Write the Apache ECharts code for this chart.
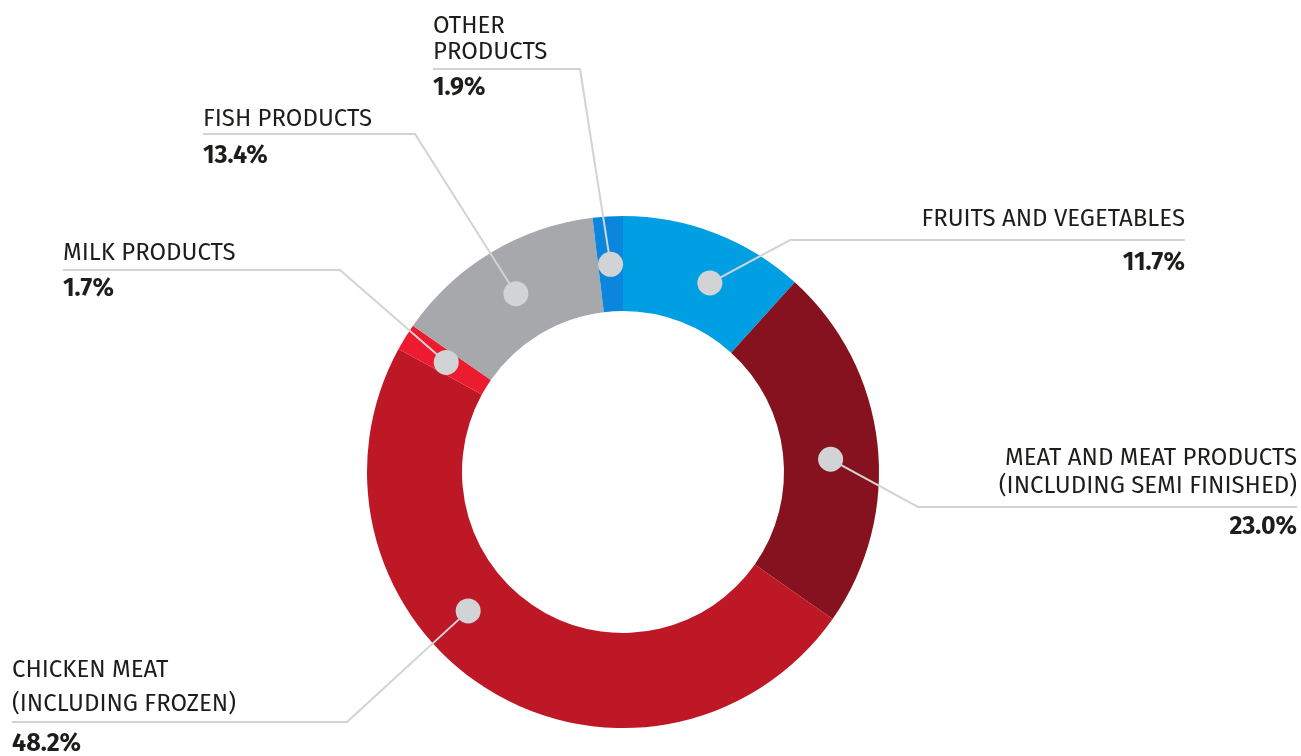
<!DOCTYPE html>
<html>
<head>
<meta charset="utf-8">
<script src="https://cdn.jsdelivr.net/npm/echarts@6/dist/echarts.min.js"></script>
<style>
html,body{margin:0;padding:0;background:#fff;}
#c{width:1301px;height:756px;}
</style>
</head>
<body>
<div id="c"></div>
<script>
// ---- data ----
const categories = [
  'FRUITS AND VEGETABLES',
  'MEAT AND MEAT PRODUCTS\n(INCLUDING SEMI FINISHED)',
  'CHICKEN MEAT\n(INCLUDING FROZEN)',
  'MILK PRODUCTS',
  'FISH PRODUCTS',
  'OTHER\nPRODUCTS'
];
const shares = [11.7, 23.0, 48.2, 1.7, 13.4, 1.9];
const colors = ['#009fe3', '#85121e', '#be1827', '#ed1b2f', '#a6a8ab', '#0a87dc'];

// ---- layout (label placement, not data) ----
const CX = 623, CY = 472, R_IN = 161, R_OUT = 256, R_DOT = 208;
const labelPlace = [
  {align: 'right', x: 1185, firstY: 219, lineY: 240, pctY: 263, elbowX: 790, lh: 27, shift: 1.0},
  {align: 'right', x: 1297, firstY: 458, lineY: 507, pctY: 527, elbowX: 918, lh: 28, shift: 0.8},
  {align: 'left',  x: 12,   firstY: 670, lineY: 722, pctY: 744, elbowX: 347, lh: 34, shift: 4.5},
  {align: 'left',  x: 63,   firstY: 253, lineY: 270, pctY: 289, elbowX: 340, lh: 27, shift: 0},
  {align: 'left',  x: 203,  firstY: 119, lineY: 134, pctY: 156, elbowX: 415, lh: 27, shift: 0},
  {align: 'left',  x: 433,  firstY: 26,  lineY: 69,  pctY: 88,  elbowX: 580, lh: 26, shift: 0}
];

const total = shares.reduce((a, b) => a + b, 0);
const cum = [];
shares.reduce((acc, v, i) => { cum[i] = acc + v / 2; return acc + v; }, 0);
const dotAt = cum.map((m, i) => m + labelPlace[i].shift);

function dotPixel(i) {
  const a = (90 - 360 * dotAt[i] / total) * Math.PI / 180;
  return [CX + R_DOT * Math.cos(a), CY - R_DOT * Math.sin(a)];
}

const FONT = "'Fira Sans', Roboto, 'Noto Sans', sans-serif";
const rich = {};
labelPlace.forEach((p, i) => {
  const nLines = categories[i].split('\n').length;
  const lastC = p.firstY + (nLines - 1) * p.lh;
  rich['n' + i] = {fontFamily: FONT, fontSize: 24, color: '#1d1d1b', lineHeight: p.lh, align: p.align};
  rich['p' + i] = {fontFamily: FONT, fontSize: 25, fontWeight: 'bold', color: '#1d1d1b',
                   lineHeight: 2 * (p.pctY - lastC) - p.lh, align: p.align};
});

const pieData = shares.map((v, i) => ({value: v, name: categories[i], itemStyle: {color: colors[i]}}));

const chart = echarts.init(document.getElementById('c'), null, {renderer: 'canvas'});
chart.setOption({
  animation: false,
  backgroundColor: '#ffffff',
  polar: {center: [CX, CY], radius: R_OUT},
  angleAxis: {type: 'value', min: 0, max: total, startAngle: 90, clockwise: true, show: false},
  radiusAxis: {type: 'value', min: 0, max: R_OUT, show: false},
  series: [
    {
      type: 'pie',
      z: 2,
      center: [CX, CY],
      radius: [R_IN, R_OUT],
      startAngle: 90,
      clockwise: true,
      silent: true,
      label: {show: false},
      labelLine: {show: false},
      data: pieData
    },
    {
      type: 'pie',
      z: 3,
      center: [CX, CY],
      radius: [R_IN, R_OUT],
      startAngle: 90,
      clockwise: true,
      avoidLabelOverlap: false,
      silent: true,
      itemStyle: {color: 'rgba(0,0,0,0)', borderWidth: 0},
      data: shares.map((v, i) => ({value: v, name: categories[i]})),
      label: {
        show: true,
        position: 'outside',
        color: '#1d1d1b',
        formatter: (p) => {
          const i = p.dataIndex;
          const lines = categories[i].split('\n').map(t => '{n' + i + '|' + t + '}');
          return lines.join('\n') + '\n{p' + i + '|' + shares[i].toFixed(1) + '%}';
        },
        rich: rich
      },
      labelLine: {show: true, smooth: false, lineStyle: {color: '#d3d3d3', width: 2, opacity: 1}},
      labelLayout: (params) => {
        const i = params.dataIndex;
        const p = labelPlace[i];
        const d = dotPixel(i);
        return {
          x: p.x,
          y: p.firstY - p.lh / 2,
          align: p.align,
          verticalAlign: 'top',
          labelLinePoints: [d, [p.elbowX, p.lineY], [p.x, p.lineY]]
        };
      }
    },
    {
      type: 'scatter',
      coordinateSystem: 'polar',
      symbol: 'circle',
      symbolSize: 25,
      silent: true,
      z: 5,
      itemStyle: {color: '#d1d3d4', opacity: 1},
      data: dotAt.map(a => [R_DOT, a])
    }
  ]
});
</script>
</body>
</html>
